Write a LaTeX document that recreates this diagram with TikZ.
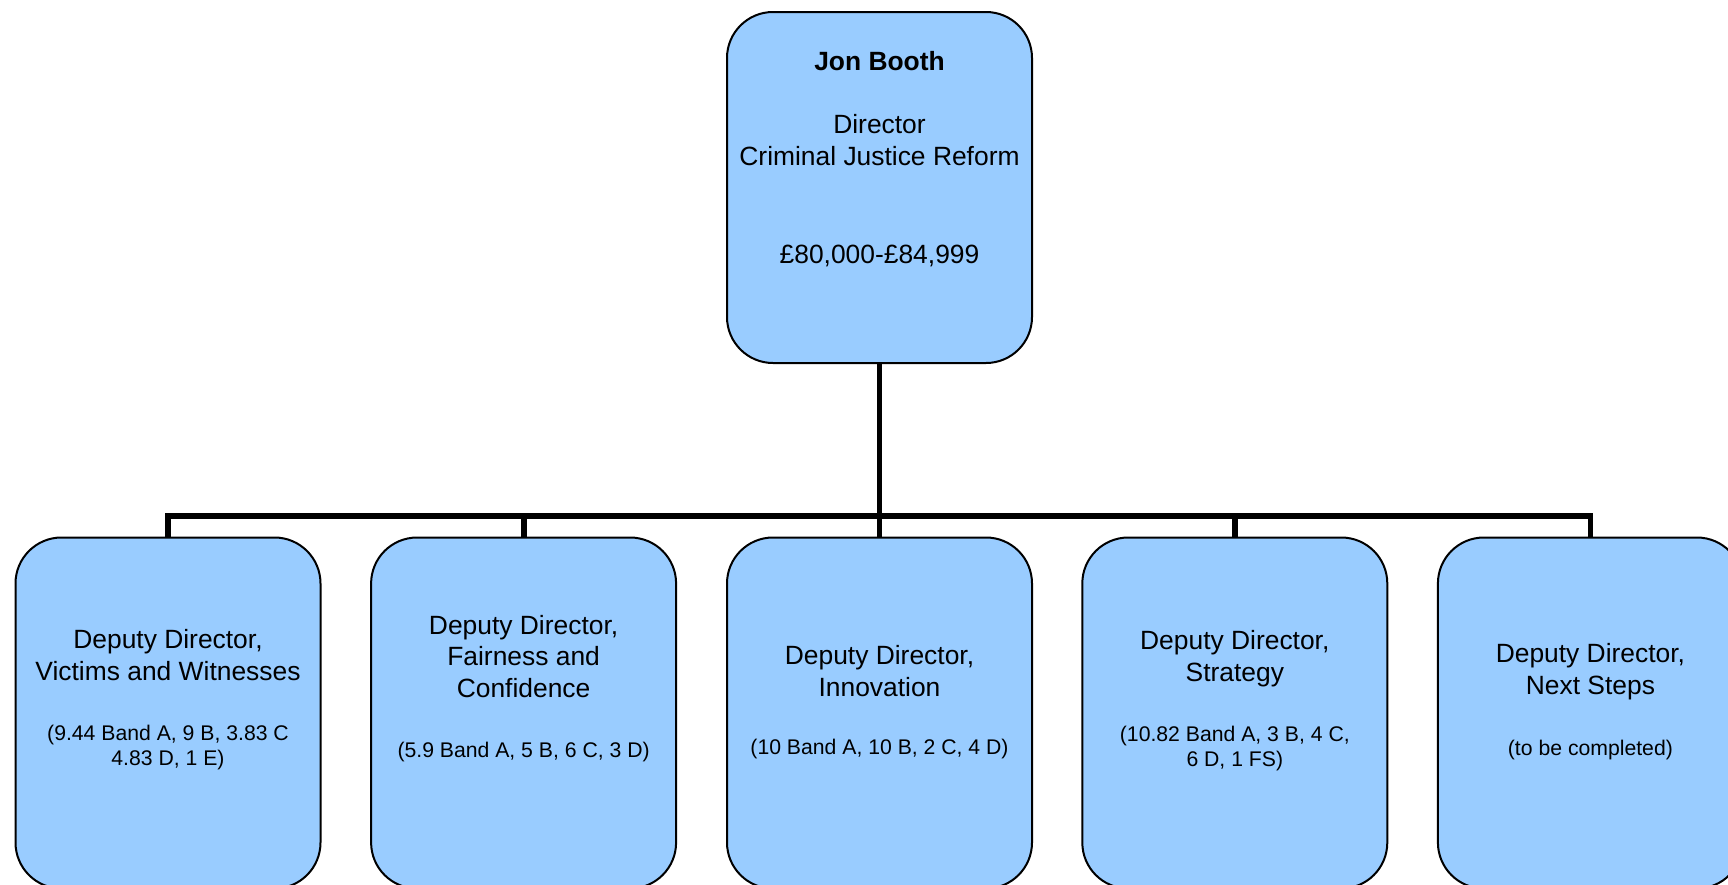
\documentclass[tikz,border=0pt]{standalone}
\usepackage{fontspec}
\setmainfont{Liberation Sans}
\definecolor{boxblue}{RGB}{153,204,255}
\tikzset{
  post/.style={draw=black, line width=1pt, fill=boxblue, rounded corners=23pt,
    minimum width=152.5pt, minimum height=175.5pt, inner sep=0pt},
  % multi-line text nodes are placed by the baseline of their last line
  bigtext/.style={font=\fontsize{13.2}{15.75}\selectfont, align=center,
    inner sep=0pt, anchor=base},
  smalltext/.style={font=\fontsize{10.6}{12.25}\selectfont, align=center,
    inner sep=0pt, anchor=base},
  link/.style={line width=2.9pt}
}
\begin{document}
\begin{tikzpicture}[x=0.5pt, y=-0.5pt]
\useasboundingbox (0,0) rectangle (1728,884);
\clip (0,0) rectangle (1728,884);

% director
\node[post] (boss) at (879.5,187.5) {};
\node[bigtext, font=\fontsize{13.2}{15.75}\selectfont\bfseries] (bossname) at (879.5,70) {Jon Booth};
\node[bigtext] (bossrole) at (879.5,165) {Director\\Criminal Justice Reform};
\node[bigtext] (bosspay) at (879.5,263) {£80,000-£84,999};

% deputy directors
\node[post] (d1) at (168,713) {};
\node[post] (d2) at (523.6,713) {};
\node[post] (d3) at (879.5,713) {};
\node[post] (d4) at (1234.8,713) {};
\node[post] (d5) at (1590.4,713) {};

\node[bigtext] (t1) at (168,680) {Deputy Director,\\Victims and Witnesses};
\node[smalltext] (s1) at (168,765) {(9.44 Band A, 9 B, 3.83 C\\4.83 D, 1 E)};
\node[bigtext] (t2) at (523.6,697) {Deputy Director,\\Fairness and\\Confidence};
\node[smalltext] (s2) at (523.6,757) {(5.9 Band A, 5 B, 6 C, 3 D)};
\node[bigtext] (t3) at (879.5,696) {Deputy Director,\\Innovation};
\node[smalltext] (s3) at (879.5,754) {(10 Band A, 10 B, 2 C, 4 D)};
\node[bigtext] (t4) at (1234.8,681) {Deputy Director,\\Strategy};
\node[smalltext] (s4) at (1234.8,766) {(10.82 Band A, 3 B, 4 C,\\6 D, 1 FS)};
\node[bigtext] (t5) at (1590.4,694) {Deputy Director,\\Next Steps};
\node[smalltext] (s5) at (1590.4,755) {(to be completed)};

% reporting lines
\coordinate (bus) at (879.5,516);
\draw[link] (boss.south) -- (bus);
\foreach \i in {1,...,5} {
  \draw[link] (bus) -| (d\i.north);
}
\end{tikzpicture}
\end{document}
